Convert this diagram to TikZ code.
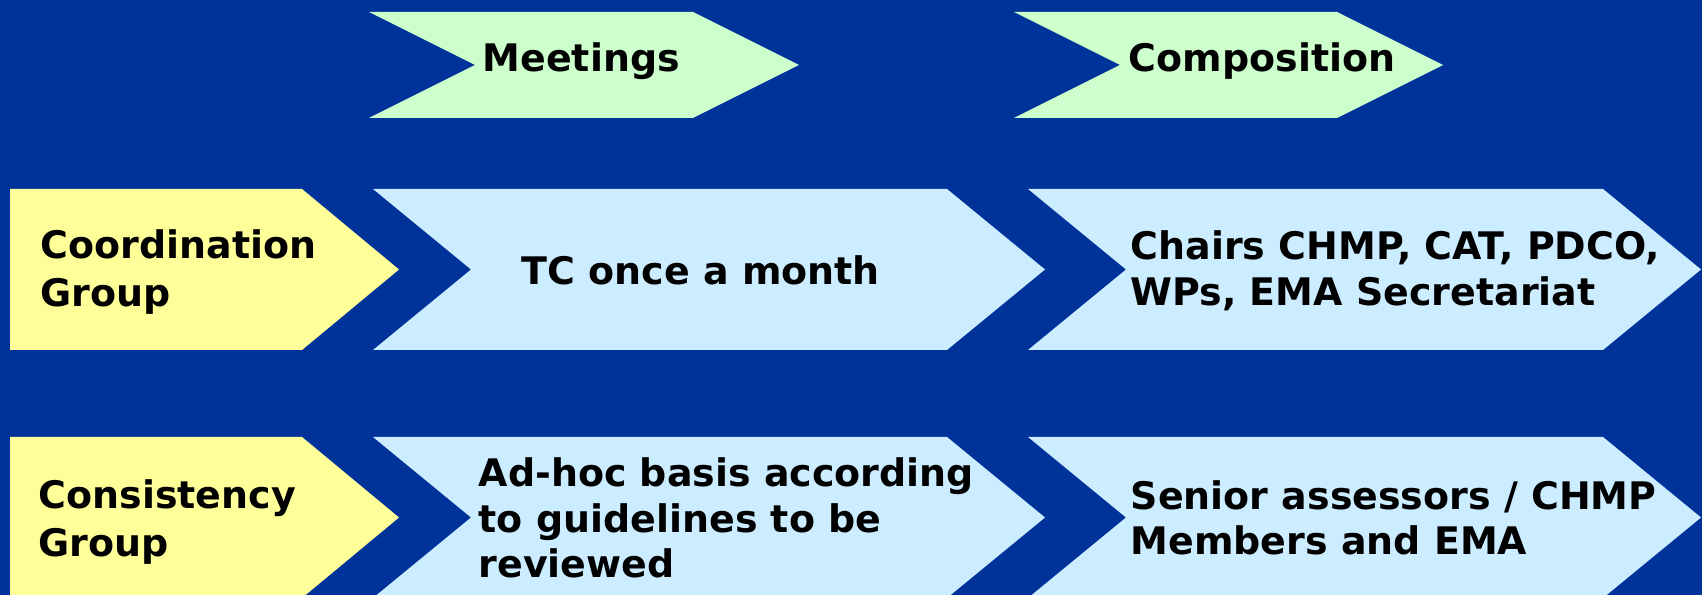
\documentclass[tikz,border=0pt]{standalone}
\usepackage{fontspec}
\setmainfont{DejaVu Sans}
\usepackage{xcolor}
\usepackage{tikz}
\definecolor{bgblue}{HTML}{003399}
\definecolor{headgreen}{HTML}{CCFFCC}
\definecolor{cellblue}{HTML}{CCECFF}
\definecolor{rowyellow}{HTML}{FFFF99}
\tikzset{every picture/.style={x=0.1mm,y=-0.1mm},
  lbl/.style={anchor=west, align=left, inner sep=0pt, text=black,
    font=\fontsize{10.8}{13}\selectfont\bfseries},
  headlbl/.style={lbl, font=\fontsize{10.8}{13.7}\selectfont\bfseries}}

\begin{document}
\begin{tikzpicture}
        \useasboundingbox (0,0) rectangle (1702,595);
        \fill[bgblue] (0,0) rectangle (1702,595);
        \clip (0,0) rectangle (1702,595);

        % chevrons: left x / top y / body width / point depth / height / colour
        \foreach \x/\y/\w/\d/\h/\c in {
          369/12/324/106/106/headgreen, 1014/12/323/106/106/headgreen,
          373/189/574/98/161/cellblue, 1028/189/575/98/161/cellblue,
          373/437/574/98/161/cellblue, 1028/437/575/98/161/cellblue}
        \fill[\c] (\x,\y) -- ++(\w,0) -- ++(\d,\h/2) -- ++(-\d,\h/2)
          -- ++(-\w,0) -- ++(\d,-\h/2) -- cycle;

        % row heads, flat on the left
        \foreach \y in {189, 437}
        \fill[rowyellow] (10,\y) -- ++(292,0) -- ++(97,80.5) -- ++(-97,80.5)
          -- ++(-292,0) -- cycle;

        \node[lbl, anchor=base west] (meet) at (482,72) {Meetings};
        \node[lbl, anchor=base west] (comp) at (1128,72) {Composition};
        \node[headlbl] (coord) at (40,272) {Coordination\\Group};
        \node[lbl] (tc) at (521,270) {TC once a month};
        \node[lbl] (chairs) at (1130,271) {Chairs CHMP, CAT, PDCO,\\WPs, EMA Secretariat};
        \node[headlbl] (consist) at (38,522) {Consistency\\Group};
        \node[lbl] (adhoc) at (478,518) {Ad-hoc basis according\\to guidelines to be\\reviewed};
        \node[lbl] (senior) at (1130,518) {Senior assessors / CHMP\\Members and EMA};
      \end{tikzpicture}
\end{document}
